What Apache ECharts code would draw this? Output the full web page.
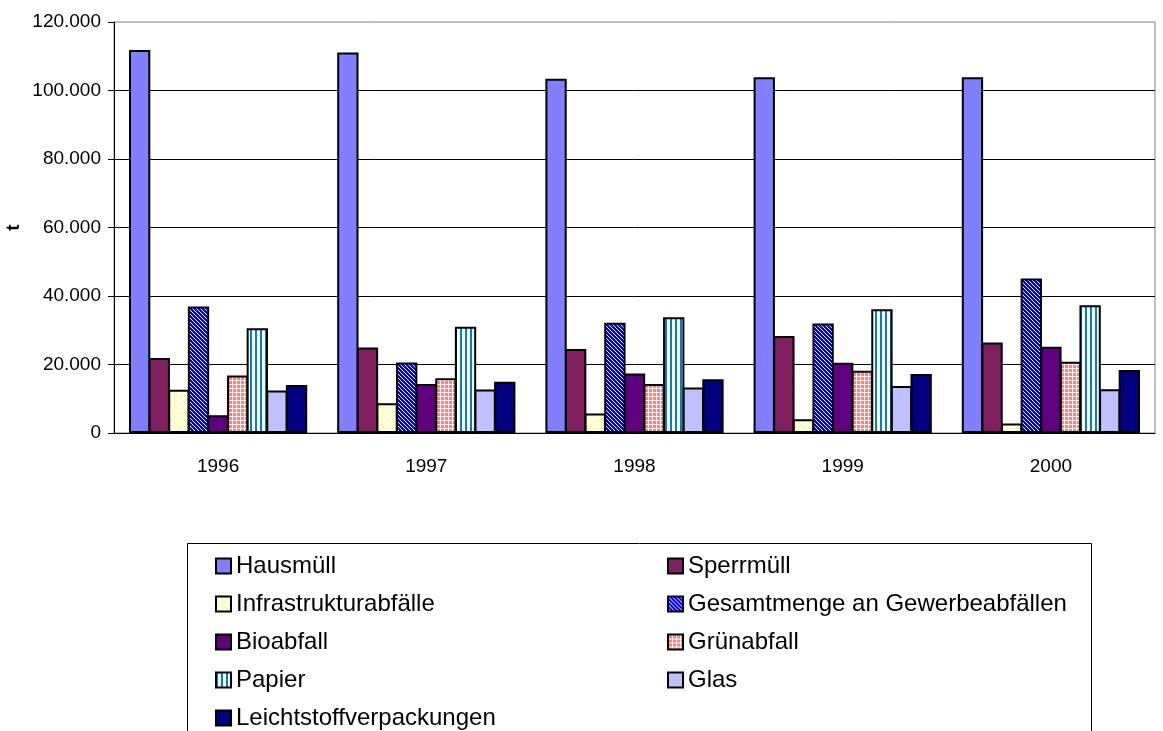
<!DOCTYPE html>
<html>
<head>
<meta charset="utf-8">
<script src="https://cdn.jsdelivr.net/npm/echarts@6/dist/echarts.min.js"></script>
<style>
  html, body { margin: 0; padding: 0; background: #fff; }
  #chart { width: 1163px; height: 731px; }
</style>
</head>
<body>
<div id="chart"></div>
<script>
// data (tonnes)
const years = ['1996', '1997', '1998', '1999', '2000'];
const hausmuell = [111800, 111100, 103400, 103900, 103900];
const sperrmuell = [21900, 25000, 24500, 28300, 26400];
const infrastruktur = [12600, 8700, 5700, 4000, 2800];
const gewerbe = [36900, 20600, 32200, 32000, 45100];
const bioabfall = [5200, 14300, 17400, 20500, 25200];
const gruenabfall = [16800, 16000, 14300, 18200, 20800];
const papier = [30600, 31000, 33800, 36100, 37300];
const glas = [12400, 12700, 13300, 13700, 12800];
const leicht = [14000, 15000, 15700, 17200, 18400];
const yTicks = [0, 20000, 40000, 60000, 80000, 100000, 120000];

// small canvas tiles for the excel-like fill patterns
function tile(w, h, bg, draw) {
  const c = document.createElement('canvas');
  c.width = w;
  c.height = h;
  const ctx = c.getContext('2d');
  ctx.fillStyle = bg;
  ctx.fillRect(0, 0, w, h);
  ctx.fillStyle = '#fff';
  draw(ctx);
  return { image: c, repeat: 'repeat' };
}
function diag(ctx) {
  for (let i = 0; i < 4; i++) ctx.fillRect(i, i, 1, 1);
}
function diagWide(ctx) {
  for (let i = 0; i < 6; i++) ctx.fillRect(i, i, 3, 1);
  ctx.fillRect(0, 4, 1, 1);
  ctx.fillRect(0, 5, 2, 1);
}
const infraFill = tile(6, 6, '#FFFFA8', diagWide);
const gewerbeFill = tile(4, 4, '#0000FF', diag);
const gruenFill = tile(4, 4, '#FF8080', function (ctx) {
  ctx.fillRect(0, 0, 4, 1);
  ctx.fillRect(0, 0, 1, 4);
});
const papierFill = tile(5, 4, '#FFFFFF', function (ctx) {
  ctx.fillStyle = '#0080C0';
  ctx.fillRect(0, 0, 2, 4);
});

function bar(name, data, color) {
  return {
    name: name,
    type: 'bar',
    data: data,
    barGap: '-8%',
    barCategoryGap: '14.4%',
    itemStyle: { color: color, borderColor: '#000', borderWidth: 2 }
  };
}

const chart = echarts.init(document.getElementById('chart'));

const leftCol = { width: 431 };
const rightCol = { width: 420 };

var option = {
  backgroundColor: '#fff',
  animation: false,
  textStyle: { fontFamily: 'Liberation Sans, Arial, sans-serif', color: '#000' },
  grid: {
    left: 114,
    right: 8,
    top: 22,
    bottom: 298,
    containLabel: false,
    outerBoundsMode: 'none',
    show: true,
    borderColor: '#808080',
    borderWidth: 1
  },
  legend: {
    left: 210,
    top: 542,
    width: 900,
    itemGap: 0,
    itemWidth: 15,
    itemHeight: 15,
    icon: 'rect',
    textStyle: { fontSize: 24, lineHeight: 38, color: '#000' },
    data: [
      { name: 'Hausmüll', textStyle: leftCol },
      { name: 'Sperrmüll', textStyle: rightCol },
      { name: 'Infrastrukturabfälle', textStyle: leftCol },
      { name: 'Gesamtmenge an Gewerbeabfällen', textStyle: rightCol },
      { name: 'Bioabfall', textStyle: leftCol },
      { name: 'Grünabfall', textStyle: rightCol },
      { name: 'Papier', textStyle: leftCol },
      { name: 'Glas', textStyle: rightCol },
      { name: 'Leichtstoffverpackungen', textStyle: leftCol }
    ]
  },
  graphic: [{
    type: 'rect',
    left: 185,
    top: 541,
    shape: { width: 904, height: 260 },
    style: { fill: 'none', stroke: '#000', lineWidth: 1 },
    silent: true
  }],
  xAxis: {
    type: 'category',
    data: years,
    axisLine: { lineStyle: { color: '#000', width: 1 } },
    axisTick: { length: 7, lineStyle: { color: '#000' } },
    axisLabel: { fontSize: 19, color: '#000', margin: 24 }
  },
  yAxis: {
    type: 'value',
    min: yTicks[0],
    max: yTicks[yTicks.length - 1],
    interval: 20000,
    name: 't',
    nameLocation: 'middle',
    nameRotate: 90,
    nameGap: 91,
    nameMoveOverlap: false,
    nameTextStyle: { fontSize: 19, fontWeight: 'bold', color: '#000' },
    axisLine: { show: true, lineStyle: { color: '#000', width: 1 } },
    axisTick: { show: true, length: 6, lineStyle: { color: '#000' } },
    axisLabel: {
      fontSize: 19,
      color: '#000',
      margin: 13,
      formatter: function (v) {
        return v === 0 ? '0' : (v / 1000) + '.000';
      }
    },
    splitLine: { show: true, showMaxLine: false, lineStyle: { color: '#000', width: 1 } }
  },
  series: [
    bar('Hausmüll', hausmuell, '#8080FF'),
    bar('Sperrmüll', sperrmuell, '#802060'),
    bar('Infrastrukturabfälle', infrastruktur, infraFill),
    bar('Gesamtmenge an Gewerbeabfällen', gewerbe, gewerbeFill),
    bar('Bioabfall', bioabfall, '#600080'),
    bar('Grünabfall', gruenabfall, gruenFill),
    bar('Papier', papier, papierFill),
    bar('Glas', glas, '#C0C0FF'),
    bar('Leichtstoffverpackungen', leicht, '#000080')
  ]
};

chart.setOption(option);
</script>
</body>
</html>
